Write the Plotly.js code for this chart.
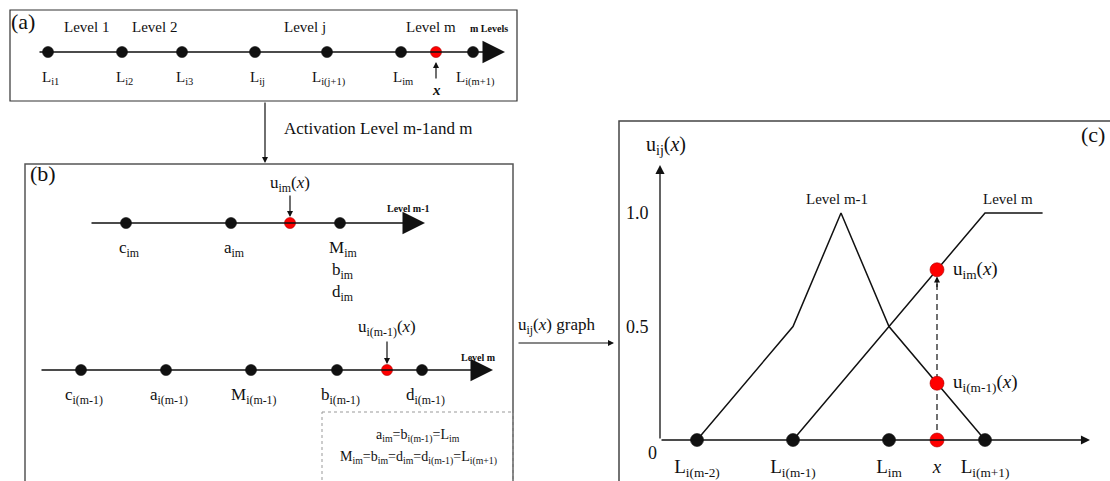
<!DOCTYPE html>
<html><head><meta charset="utf-8">
<script src="https://cdn.plot.ly/plotly-3.0.1.min.js"></script>
<style>html,body{margin:0;padding:0;background:#fff}#chart{width:1110px;height:481px}</style>
</head><body><div id="chart"></div>
<script>
// ---------- Panel (a): m levels on one axis ----------
const aLevelNames = ['Level 1', 'Level 2', 'Level j', 'Level m'];
const aPointLabels = ['L<sub>i1</sub>', 'L<sub>i2</sub>', 'L<sub>i3</sub>', 'L<sub>ij</sub>', 'L<sub>i(j+1)</sub>', 'L<sub>im</sub>', 'L<sub>i(m+1)</sub>'];
const aPointPos = [48, 122, 182, 255, 327, 401, 473];
const aInputPos = 436;

// ---------- Panel (b): activated levels ----------
const bUpperLabels = ['c<sub>im</sub>', 'a<sub>im</sub>', 'M<sub>im</sub>'];
const bUpperPos = [126, 231, 340];
const bUpperStack = ['b<sub>im</sub>', 'd<sub>im</sub>'];
const bUpperInput = 290;
const bLowerLabels = ['c<sub>i(m-1)</sub>', 'a<sub>i(m-1)</sub>', 'M<sub>i(m-1)</sub>', 'b<sub>i(m-1)</sub>', 'd<sub>i(m-1)</sub>'];
const bLowerPos = [81, 166, 251, 337, 422];
const bLowerInput = 387;
const bNoteLines = ['a<sub>im</sub>=b<sub>i(m-1)</sub>=L<sub>im</sub>', 'M<sub>im</sub>=b<sub>im</sub>=d<sub>im</sub>=d<sub>i(m-1)</sub>=L<sub>i(m+1)</sub>'];

// ---------- Panel (c): membership graph ----------
const cTickLabels = ['L<sub>i(m-2)</sub>', 'L<sub>i(m-1)</sub>', 'L<sub>im</sub>', '<i>x</i>', 'L<sub>i(m+1)</sub>'];
const cTickPos = [1, 2, 3, 3.5, 4];
const cLevelPos = [1, 2, 3, 4];
const levelM1X = [1, 2, 2.5, 3, 4];
const levelM1Y = [0, 0.5, 1, 0.5, 0];
const levelMX = [2, 4, 4.6];
const levelMY = [0, 1, 1];
const xInput = 3.5;
const uIm = 0.75;
const uIm1 = 0.25;
const cYTicks = [0.5, 1.0];
const cYTickText = ['0.5', '1.0'];

// ---------- helpers ----------
const FAM = 'Liberation Serif';
const INK = '#111';
function T(text, x, y, size, extra) {
  return Object.assign({text: text, x: x, y: y, xref: 'x', yref: 'y', showarrow: false,
    font: {family: FAM, size: size, color: INK}}, extra || {});
}
function A(x0, y0, x1, y1, size, width, refx, refy) {
  return {x: x1, y: y1, ax: x0, ay: y0, xref: refx || 'x', yref: refy || 'y',
    axref: refx || 'x', ayref: refy || 'y', text: '', showarrow: true,
    arrowhead: 2, arrowsize: size, arrowwidth: width, arrowcolor: INK};
}
function dots(xs, y, color, size, xa, ya) {
  return {type: 'scatter', mode: 'markers', x: xs, y: xs.map(() => y),
    xaxis: xa || 'x', yaxis: ya || 'y', cliponaxis: false, hoverinfo: 'skip',
    marker: {color: color, size: size, line: {color: color === 'red' ? '#a00' : INK, width: 0.6}}};
}

const traces = [];
const ann = [];
const shapes = [];

// Panel (a)
shapes.push({type: 'rect', xref: 'x', yref: 'y', x0: 10, y0: 10, x1: 517, y1: 101, line: {color: '#333', width: 1.2}});
ann.push(T('(a)', 23, 21, 22));
const aLevelX = [86, 154, 305, 431];
aLevelNames.forEach((t, i) => ann.push(T(t, aLevelX[i], 27, 15)));
ann.push(T('<b>m Levels</b>', 489, 28, 10));
ann.push(A(38, 52, 505, 52, 3, 1.5));
traces.push(dots(aPointPos, 52, INK, 11));
traces.push(dots([aInputPos], 52, 'red', 11));
aPointLabels.forEach((t, i) => ann.push(T(t, aPointPos[i] + 2, 78, 15)));
ann.push(A(aInputPos, 80, aInputPos, 62, 1, 1.2));
ann.push(T('<b><i>x</i></b>', aInputPos, 90, 15));

// arrow a -> b
ann.push(A(265, 101, 265, 163, 1, 1.2));
ann.push(T('Activation Level m-1and m', 282, 128, 17, {xanchor: 'left'}));

// Panel (b)
shapes.push({type: 'rect', xref: 'x', yref: 'y', x0: 25, y0: 164, x1: 513, y1: 498, line: {color: '#555', width: 1.5}});
shapes.push({type: 'rect', xref: 'x', yref: 'y', x0: 322, y0: 412, x1: 513, y1: 498, line: {color: '#999', width: 1, dash: 'dot'}});
ann.push(T('(b)', 43, 173, 22));
ann.push(A(90, 223, 425, 223, 3, 1.5));
ann.push(T('<b>Level m-1</b>', 408, 208, 10));
traces.push(dots(bUpperPos, 223, INK, 11));
traces.push(dots([bUpperInput], 223, 'red', 11));
bUpperLabels.forEach((t, i) => ann.push(T(t, bUpperPos[i] + 3, 249, 17)));
bUpperStack.forEach((t, i) => ann.push(T(t, bUpperPos[2] + 3, 271 + 22 * i, 17)));
ann.push(T('u<sub>im</sub>(<i>x</i>)', bUpperInput, 184, 17));
ann.push(A(bUpperInput, 194, bUpperInput, 217, 1, 1.2));

ann.push(A(40, 370, 493, 370, 3, 1.5));
ann.push(T('<b>Level m</b>', 478, 357, 10));
traces.push(dots(bLowerPos, 370, INK, 11));
traces.push(dots([bLowerInput], 370, 'red', 11));
bLowerLabels.forEach((t, i) => ann.push(T(t, bLowerPos[i] + 3, 396, 17)));
ann.push(T('u<sub>i(m-1)</sub>(<i>x</i>)', bLowerInput, 328, 17));
ann.push(A(bLowerInput, 340, bLowerInput, 364, 1, 1.2));
bNoteLines.forEach((t, i) => ann.push(T(t, 418, 436 + 22 * i, 14)));

// arrow b -> c
ann.push(T('u<sub>ij</sub>(<i>x</i>) graph', 516, 326, 17, {xanchor: 'left'}));
ann.push(A(517, 343, 614, 343, 1, 1.2));

// Panel (c)
shapes.push({type: 'rect', xref: 'x', yref: 'y', x0: 619, y0: 121, x1: 1115, y1: 498, line: {color: '#444', width: 1.5}});
ann.push(T('(c)', 1093, 134, 22));
ann.push(T('u<sub>ij</sub>(<i>x</i>)', 666, 145, 20));
ann.push(T('0', 652, 453, 18));
const xO = 0.6146;
ann.push(A(xO, 0, 5.094, 0, 1.4, 1.3, 'x2', 'y2'));
ann.push(A(xO, 0, xO, 1.2115, 1.4, 1.3, 'x2', 'y2'));
traces.push({type: 'scatter', mode: 'lines', x: levelM1X, y: levelM1Y, xaxis: 'x2', yaxis: 'y2',
  cliponaxis: false, hoverinfo: 'skip', line: {color: INK, width: 1.5}});
traces.push({type: 'scatter', mode: 'lines', x: levelMX, y: levelMY, xaxis: 'x2', yaxis: 'y2',
  cliponaxis: false, hoverinfo: 'skip', line: {color: INK, width: 1.5}});
traces.push({type: 'scatter', mode: 'lines', x: [xInput, xInput], y: [0, uIm - 0.035], xaxis: 'x2', yaxis: 'y2',
  cliponaxis: false, hoverinfo: 'skip', line: {color: INK, width: 1.2, dash: '6px,4px'}});
ann.push({x: xInput, y: uIm - 0.03, xref: 'x2', yref: 'y2', ax: 0, ay: 12, text: '', showarrow: true,
  arrowhead: 2, arrowsize: 1, arrowwidth: 1.2, arrowcolor: INK});
traces.push(dots(cLevelPos, 0, INK, 13, 'x2', 'y2'));
traces.push({type: 'scatter', mode: 'markers', x: [xInput, xInput, xInput], y: [0, uIm1, uIm],
  xaxis: 'x2', yaxis: 'y2', cliponaxis: false, hoverinfo: 'skip',
  marker: {color: 'red', size: 14, line: {color: '#a00', width: 0.6}}});
ann.push(Object.assign(T('u<sub>im</sub>(<i>x</i>)', xInput, uIm, 19, {xanchor: 'left', xshift: 14}), {xref: 'x2', yref: 'y2'}));
ann.push(Object.assign(T('u<sub>i(m-1)</sub>(<i>x</i>)', xInput, uIm1, 19, {xanchor: 'left', xshift: 14}), {xref: 'x2', yref: 'y2'}));
ann.push(Object.assign(T('Level m-1', 2.46, 1.06, 15), {xref: 'x2', yref: 'y2'}));
ann.push(Object.assign(T('Level m', 4.24, 1.06, 15), {xref: 'x2', yref: 'y2'}));

const layout = {
  width: 1110, height: 481,
  margin: {l: 0, r: 0, t: 0, b: 0},
  paper_bgcolor: '#fff', plot_bgcolor: 'rgba(0,0,0,0)',
  showlegend: false,
  font: {family: FAM, color: INK},
  xaxis: {domain: [0, 1], range: [0, 1110], visible: false, fixedrange: true},
  yaxis: {domain: [0, 1], range: [481, 0], visible: false, fixedrange: true},
  xaxis2: {domain: [660 / 1110, 1], range: [xO, xO + 450 / 96], anchor: 'y2',
    showgrid: false, zeroline: false, showline: false,
    tickvals: cTickPos, ticktext: cTickLabels, ticks: 'outside', ticklen: 9, tickcolor: 'rgba(0,0,0,0)',
    tickfont: {family: FAM, size: 19, color: INK}, fixedrange: true},
  yaxis2: {domain: [41 / 481, 360 / 481], range: [0, 319 / 227], anchor: 'x2',
    showgrid: false, zeroline: false, showline: false,
    tickvals: cYTicks, ticktext: cYTickText, ticks: 'outside', ticklen: 7, tickcolor: 'rgba(0,0,0,0)',
    tickfont: {family: FAM, size: 18, color: INK}, fixedrange: true},
  shapes: shapes,
  annotations: ann
};
Plotly.newPlot('chart', traces, layout, {staticPlot: true, displayModeBar: false});
</script></body></html>
